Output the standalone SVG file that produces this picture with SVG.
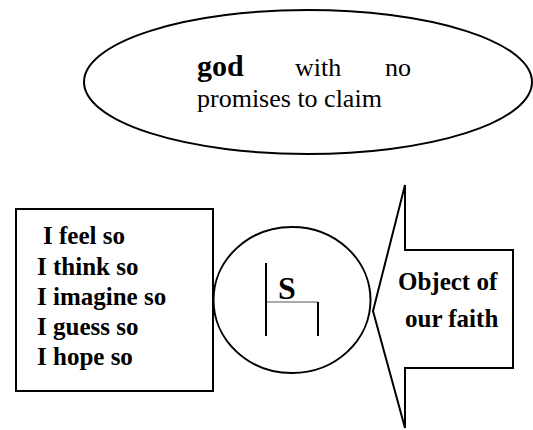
<svg xmlns="http://www.w3.org/2000/svg" width="533" height="430" viewBox="0 0 533 430">
<style>
.shape{fill:#fff;stroke:#000;stroke-width:2}
.t{font-family:"Liberation Serif","Times New Roman",serif;fill:#000}
.b{font-weight:bold}
.r{font-size:26px}
.m{font-size:25px;font-weight:bold}
</style>
<rect width="533" height="430" fill="#fff"/>
<g id="god-ellipse">
<ellipse class="shape" cx="308" cy="82" rx="224" ry="72"/>
<text class="t b" x="197" y="76" font-size="30">god</text>
<text class="t r" x="295" y="76">with</text>
<text class="t r" x="385" y="76">no</text>
<text class="t r" x="197" y="107">promises to claim</text>
</g>
<g id="feelings-box">
<rect class="shape" x="16" y="209" width="197" height="182"/>
<text class="t m" x="43" y="244">I feel so</text>
<text class="t m" x="37" y="275">I think so</text>
<text class="t m" x="37" y="305">I imagine so</text>
<text class="t m" x="37" y="335">I guess so</text>
<text class="t m" x="37" y="365">I hope so</text>
</g>
<g id="object-arrow">
<path class="shape" d="M405,185 L405,250 L513,250 L513,368 L405,368 L405,428 L373,311 Z"/>
<text class="t m" x="398" y="290">Object of</text>
<text class="t m" x="405" y="327">our faith</text>
</g>
<g id="self-circle">
<ellipse fill="none" stroke="#000" stroke-width="2" cx="292" cy="300" rx="78.5" ry="73"/>
<text class="t b" x="278" y="299" font-size="32">S</text>
<line x1="266" y1="263" x2="266" y2="336" stroke="#000" stroke-width="2"/>
<line x1="267" y1="302" x2="318" y2="302" stroke="#555" stroke-width="1"/>
<line x1="318" y1="302" x2="318" y2="336" stroke="#000" stroke-width="2"/>
</g>
<g id="connectors"/>
</svg>
